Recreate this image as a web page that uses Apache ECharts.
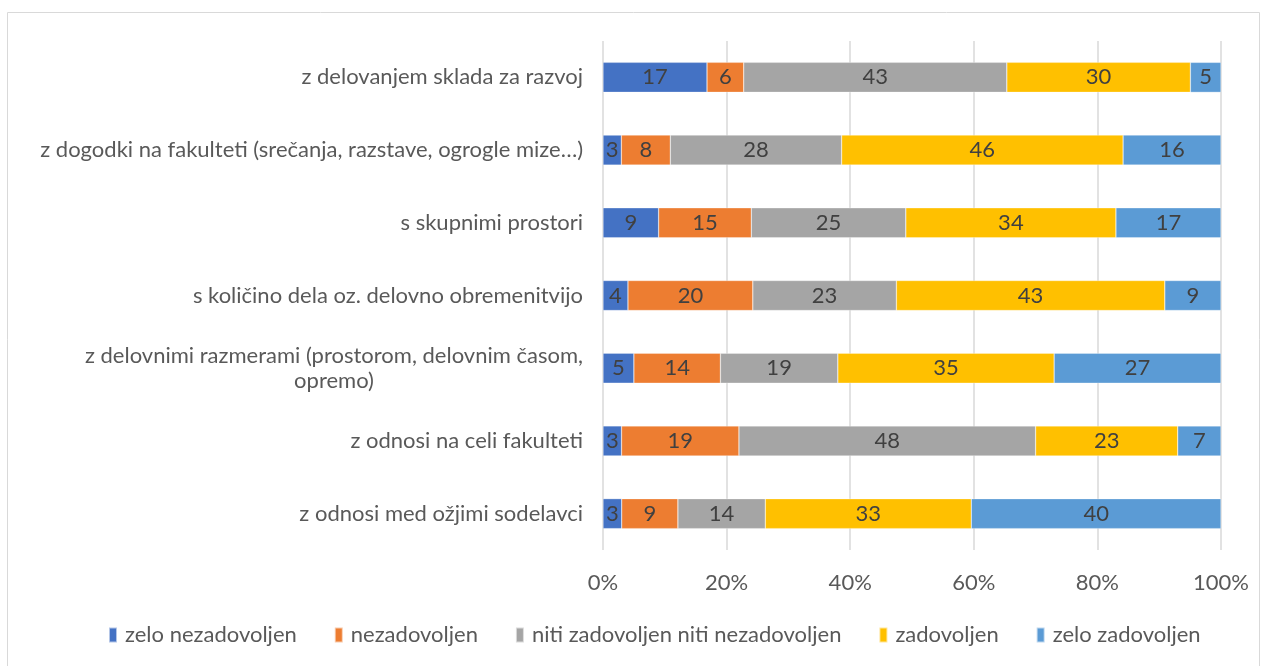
<!DOCTYPE html>
<html>
<head>
<meta charset="utf-8">
<title>Zadovoljstvo</title>
<script src="https://cdn.jsdelivr.net/npm/echarts@6/dist/echarts.min.js"></script>
<style>
  html, body { margin: 0; padding: 0; background: #fff; }
  #chart { width: 1266px; height: 666px; }
</style>
</head>
<body>
<div id="chart"></div>
<script>
// vrstice od zgoraj navzdol
const categories = [
  'z delovanjem sklada za razvoj',
  'z dogodki na fakulteti (srečanja, razstave, ogrogle mize…)',
  's skupnimi prostori',
  's količino dela oz. delovno obremenitvijo',
  'z delovnimi razmerami (prostorom, delovnim časom,\nopremo)',
  'z odnosi na celi fakulteti',
  'z odnosi med ožjimi sodelavci'
]
const seriesNames = ['zelo nezadovoljen', 'nezadovoljen', 'niti zadovoljen niti nezadovoljen', 'zadovoljen', 'zelo zadovoljen']
const zeloNezadovoljen = [17, 3, 9, 4, 5, 3, 3]
const nezadovoljen = [6, 8, 15, 20, 14, 19, 9]
const niti = [43, 28, 25, 23, 19, 48, 14]
const zadovoljen = [30, 46, 34, 43, 35, 23, 33]
const zeloZadovoljen = [5, 16, 17, 9, 27, 7, 40]
const tickLabels = [0, 20, 40, 60, 80, 100]
const colors = ['#4472C4', '#ED7D31', '#A5A5A5', '#FFC000', '#5B9BD5']

const allValues = [zeloNezadovoljen, nezadovoljen, niti, zadovoljen, zeloZadovoljen]
const rowTotals = categories.map((c, i) => allValues.reduce((s, arr) => s + arr[i], 0))

const font = 'Lato, "Open Sans", sans-serif'
const fs = 22
const myChart = echarts.init(document.getElementById('chart'))

const option = {
  animation: false,
  color: colors,
  textStyle: { fontFamily: font },
  graphic: [{
    type: 'rect',
    shape: { x: 7.5, y: 12.5, width: 1252, height: 660 },
    style: { fill: 'none', stroke: '#D9D9D9', lineWidth: 1 },
    silent: true
  }],
  grid: {
    left: 603,
    right: 45,
    top: 41,
    bottom: 116
  },
  legend: {
    data: seriesNames,
    bottom: 15,
    left: 103,
    itemWidth: 8,
    itemHeight: 15,
    itemGap: 37,
    icon: 'rect',
    textStyle: { color: '#595959', fontSize: fs, fontFamily: font, padding: [0, 0, 0, 3] }
  },
  xAxis: {
    type: 'value',
    min: tickLabels[0],
    max: tickLabels[tickLabels.length - 1],
    interval: 20,
    axisLine: { show: false },
    axisTick: { show: false },
    splitLine: { lineStyle: { color: '#D9D9D9', width: 1.5 } },
    axisLabel: {
      color: '#595959',
      fontSize: fs,
      fontFamily: font,
      margin: 22,
      formatter: '{value}%'
    }
  },
  yAxis: {
    type: 'category',
    inverse: true,
    data: categories,
    axisLine: { show: false },
    axisTick: { show: false },
    axisLabel: {
      color: '#595959',
      fontSize: fs,
      fontFamily: font,
      margin: 20,
      lineHeight: 25,
      // vrstice vecvrsticne oznake centrirane med sabo
      formatter: v => v.split('\n').map(l => '{c|' + l + '}').join('\n'),
      rich: {
        c: { align: 'center', color: '#595959', fontSize: fs, fontFamily: font, lineHeight: 25 }
      }
    }
  },
  series: allValues.map((arr, k) => ({
    name: seriesNames[k],
    type: 'bar',
    stack: 'total',
    barWidth: 30,
    // delez v vrstici, oznaka pokaze izvorno vrednost
    data: arr.map((v, i) => ({ value: v / rowTotals[i] * 100, raw: v })),
    itemStyle: { borderColor: 'rgba(255,255,255,0.6)', borderWidth: 0.5 },
    label: {
      show: true,
      position: 'inside',
      color: '#404040',
      fontSize: fs,
      fontFamily: font,
      formatter: p => p.data.raw
    }
  }))
}

myChart.setOption(option)
window.addEventListener('resize', () => {
  myChart.resize()
})
</script>
</body>
</html>
